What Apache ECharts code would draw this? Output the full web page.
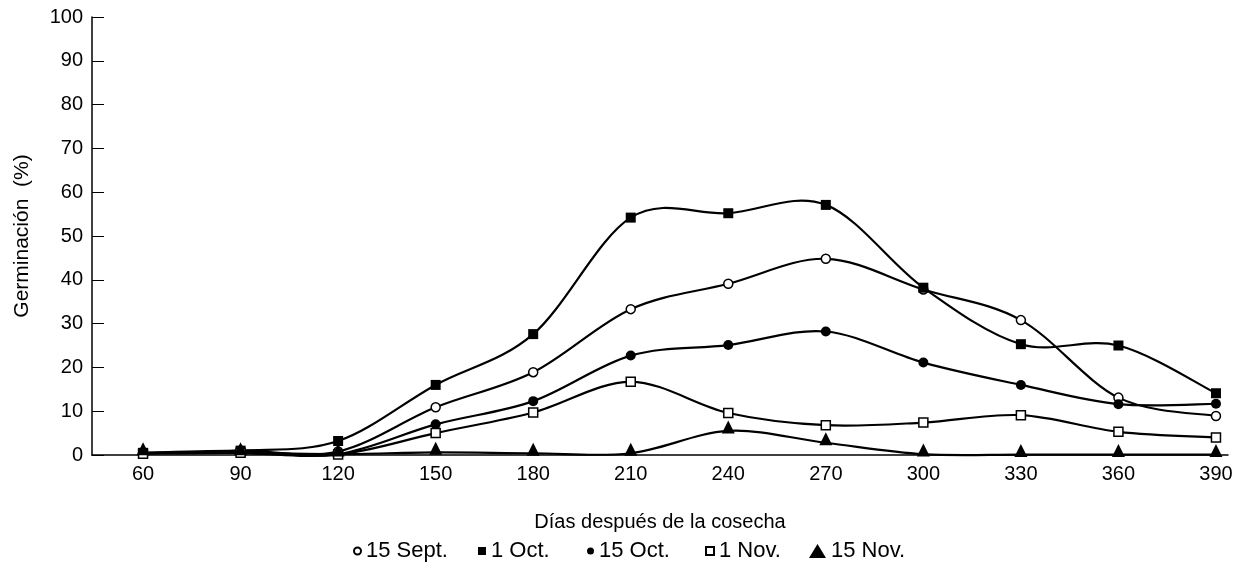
<!DOCTYPE html>
<html>
<head>
<meta charset="utf-8">
<script src="https://cdn.jsdelivr.net/npm/echarts@6/dist/echarts.min.js"></script>
<style>
  html, body { margin: 0; padding: 0; background: #fff; }
  #chart { width: 1238px; height: 572px; }
</style>
</head>
<body>
<div id="chart"></div>
<script>
// days after harvest
const days = [60, 90, 120, 150, 180, 210, 240, 270, 300, 330, 360, 390];

// germination (%) per sowing date
const sept15 = [0.5, 1, 0.8, 10.9, 18.9, 33.3, 39.1, 44.8, 37.8, 30.8, 13.1, 8.9];
const oct1 = [0.5, 1, 3.2, 16, 27.6, 54.2, 55.2, 57.1, 38.2, 25.3, 25, 14.1];
const oct15 = [0.4, 0.5, 0.2, 7, 12.3, 22.7, 25.1, 28.2, 21.1, 16, 11.6, 11.7];
const nov1 = [0.3, 0.5, 0.1, 5, 9.7, 16.7, 9.6, 6.8, 7.4, 9.1, 5.3, 4];
const nov15 = [0.5, 0.5, 0.2, 0.6, 0.4, 0.4, 5.5, 2.8, 0.2, 0.1, 0.1, 0.1];

const seriesNames = ["15 Sept.", "1 Oct.", "15 Oct.", "1 Nov.", "15 Nov."];
const yTicks = [0, 10, 20, 30, 40, 50, 60, 70, 80, 90, 100];

const FONT = "Liberation Sans";

const chart = echarts.init(document.getElementById("chart"));

function pairs(values) {
  return values.map((v, i) => [days[i], v]);
}

// markers only; the curve is drawn by the custom series below
function markerSeries(name, values, symbol, filled, size, offset) {
  return {
    name: name,
    type: "line",
    data: pairs(values),
    symbol: symbol,
    symbolSize: size,
    symbolOffset: offset || [0, 0],
    showSymbol: true,
    lineStyle: { color: "#000", width: 0, opacity: 0 },
    itemStyle: {
      color: filled ? "#000" : "#fff",
      borderColor: "#000",
      borderWidth: filled ? 0 : 1.5,
    },
    emphasis: { disabled: true },
    z: 4,
  };
}

// smooth curve through the points (catmull-rom segments in pixel space)
function curveSeries(values) {
  return {
    type: "custom",
    data: pairs(values),
    silent: true,
    z: 3,
    renderItem: function (params, api) {
      const i = params.dataIndex;
      if (i >= values.length - 1) return null;
      const pt = (j) => {
        const k = Math.max(0, Math.min(values.length - 1, j));
        return api.coord([days[k], values[k]]);
      };
      const p0 = pt(i - 1), p1 = pt(i), p2 = pt(i + 1), p3 = pt(i + 2);
      const c1 = [p1[0] + (p2[0] - p0[0]) / 6, p1[1] + (p2[1] - p0[1]) / 6];
      const c2 = [p2[0] - (p3[0] - p1[0]) / 6, p2[1] - (p3[1] - p1[1]) / 6];
      return {
        type: "path",
        shape: {
          pathData: `M${p1[0]},${p1[1]} C${c1[0]},${c1[1]} ${c2[0]},${c2[1]} ${p2[0]},${p2[1]}`,
        },
        style: { stroke: "#000", lineWidth: 2.2, fill: "none" },
      };
    },
  };
}

function legendAt(name, icon, x, w, h) {
  return {
    top: 540,
    left: x,
    padding: 0,
    itemWidth: w,
    itemHeight: h,
    selectedMode: false,
    textStyle: { fontSize: 22, color: "#000", fontFamily: FONT },
    data: [{ name: name, icon: icon }],
  };
}

const option = {
  animation: false,
  backgroundColor: "#fff",
  textStyle: { fontFamily: FONT, color: "#000" },
  grid: { left: 92, top: 17, right: 10, bottom: 117, outerBoundsMode: "none" },
  xAxis: {
    type: "value",
    min: 44.3,
    max: 393.7,
    name: "Días después de la cosecha",
    nameLocation: "middle",
    nameGap: 57,
    nameTextStyle: { fontSize: 20, color: "#000", fontFamily: FONT, verticalAlign: "top" },
    axisLine: { show: true, lineStyle: { color: "#000", width: 1.5 } },
    axisTick: { show: false },
    splitLine: { show: false },
    axisLabel: {
      customValues: days,
      fontSize: 20,
      color: "#000",
      margin: 9,
      fontFamily: FONT,
    },
  },
  yAxis: {
    type: "value",
    min: 0,
    max: 100,
    interval: 10,
    name: "Germinación  (%)",
    nameLocation: "middle",
    nameGap: 59,
    nameRotate: 90,
    nameTextStyle: { fontSize: 21, color: "#000", fontFamily: FONT },
    axisLine: { show: true, lineStyle: { color: "#000", width: 1.5 } },
    axisTick: { show: true, inside: true, length: 12, lineStyle: { color: "#000", width: 1 } },
    splitLine: { show: false },
    axisLabel: {
      customValues: yTicks,
      fontSize: 20,
      color: "#000",
      margin: 9,
      fontFamily: FONT,
    },
  },
  legend: [
    legendAt(seriesNames[0], "circle", 353, 7, 7),
    legendAt(seriesNames[1], "rect", 478, 8, 8),
    legendAt(seriesNames[2], "circle", 587, 7, 7),
    legendAt(seriesNames[3], "rect", 705, 8, 8),
    legendAt(seriesNames[4], "triangle", 809, 17, 14),
  ],
  series: [
    curveSeries(sept15),
    curveSeries(oct1),
    curveSeries(oct15),
    curveSeries(nov1),
    curveSeries(nov15),
    markerSeries(seriesNames[0], sept15, "circle", false, 9),
    markerSeries(seriesNames[1], oct1, "rect", true, 10),
    markerSeries(seriesNames[2], oct15, "circle", true, 10),
    markerSeries(seriesNames[3], nov1, "rect", false, 9),
    markerSeries(seriesNames[4], nov15, "triangle", true, 13, [0, -4]),
  ],
};

chart.setOption(option);
</script>
</body>
</html>
